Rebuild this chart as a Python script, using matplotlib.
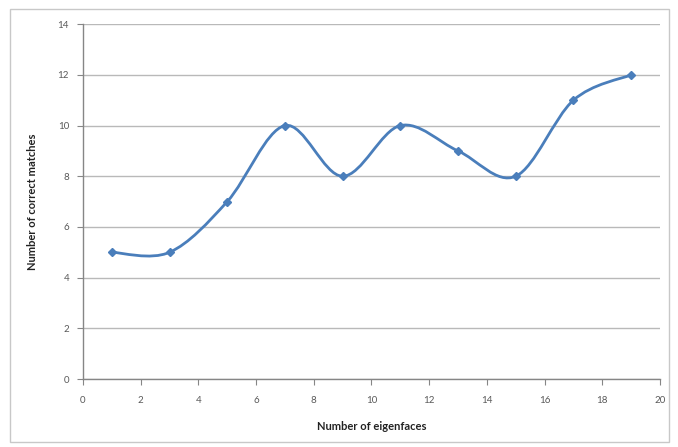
import numpy as np
import matplotlib
matplotlib.use("Agg")
from matplotlib import pyplot as plt
from matplotlib.path import Path
from matplotlib.patches import PathPatch, Rectangle

# data
eigenfaces = [1, 3, 5, 7, 9, 11, 13, 15, 17, 19]
matches = [5, 5, 7, 10, 8, 10, 9, 8, 11, 12]
xticks = list(range(0, 21, 2))
yticks = list(range(0, 15, 2))

line_col = '#4a7ebb'
grid_col = '#b9b9b9'
text_col = '#595959'

plt.rcParams['font.family'] = ['Lato', 'DejaVu Sans']


def smooth_path(x, y):
    # excel-style smoothed line: cubic bezier segments, catmull-rom control points
    pts = np.column_stack([x, y]).astype(float)
    n = len(pts)
    verts = [pts[0]]
    codes = [Path.MOVETO]
    for i in range(n - 1):
        p0 = pts[i - 1] if i > 0 else pts[i]
        p1 = pts[i]
        p2 = pts[i + 1]
        p3 = pts[i + 2] if i + 2 < n else pts[i + 1]
        c1 = p1 + (p2 - p0) / 6.0
        c2 = p2 - (p3 - p1) / 6.0
        verts += [c1, c2, p2]
        codes += [Path.CURVE4] * 3
    return Path(verts, codes)


fig = plt.figure(figsize=(6.78, 4.47), dpi=100)
ax = fig.add_axes([0.1224, 0.152, 0.851, 0.794])

# outer chart border
fig.patches.append(Rectangle((0.015, 0.011), 0.971, 0.969, transform=fig.transFigure,
                             fill=False, edgecolor='#c8c8c8', linewidth=1.0))

ax.add_patch(PathPatch(smooth_path(eigenfaces, matches), facecolor='none',
                       edgecolor=line_col, linewidth=2.0, zorder=3))
ax.plot(eigenfaces, matches, linestyle='none', marker='D', markersize=4.5,
        color=line_col, zorder=4)

ax.set_xlim(0, 20)
ax.set_ylim(0, 14)
ax.set_xticks(xticks)
ax.set_yticks(yticks)
ax.yaxis.grid(True, color=grid_col, linewidth=1.0)
ax.set_axisbelow(True)

for s in ['top', 'right']:
    ax.spines[s].set_visible(False)
for s in ['left', 'bottom']:
    ax.spines[s].set_color('#868686')
    ax.spines[s].set_linewidth(1.0)

ax.tick_params(axis='both', direction='out', length=4, color='#868686',
               labelsize=7, labelcolor=text_col)
ax.tick_params(axis='x', pad=8)
ax.tick_params(axis='y', pad=6)

ax.set_xlabel('Number of eigenfaces', fontsize=8, fontweight='bold', color='#222222', labelpad=12)
ax.set_ylabel('Number of correct matches', fontsize=8, fontweight='bold', color='#222222', labelpad=14)

fig.savefig('out.png', dpi=100)
